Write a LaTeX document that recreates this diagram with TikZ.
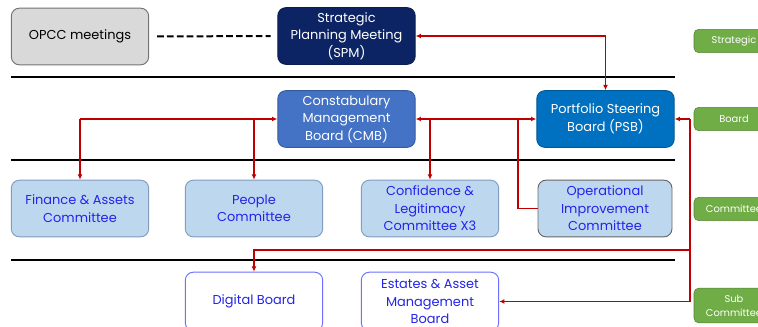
\documentclass[tikz,border=0pt]{standalone}
\usepackage{fontspec}
\setmainfont{Poppins}
\usepackage{xcolor}
\usetikzlibrary{arrows.meta}

\definecolor{spmnavy}{RGB}{12,36,100}
\definecolor{cmbblue}{RGB}{68,114,196}
\definecolor{psbblue}{RGB}{0,112,192}
\definecolor{comfill}{RGB}{189,215,238}
\definecolor{comline}{RGB}{130,155,190}
\definecolor{comtext}{RGB}{35,35,235}
\definecolor{subline}{RGB}{110,110,255}
\definecolor{tagfill}{RGB}{112,173,71}
\definecolor{tagline}{RGB}{84,130,53}
\definecolor{linkred}{RGB}{192,0,0}
\definecolor{opccfill}{RGB}{217,217,217}

\begin{document}
\begin{tikzpicture}[x=0.75pt, y=-0.75pt, font=\fontsize{9.7}{13.1}\selectfont,
  box/.style={rounded corners=6pt, minimum width=103pt, minimum height=42.5pt,
    align=center, inner sep=2pt, line width=0.7pt},
  topbox/.style={box, text=white, draw=#1!80!black, fill=#1},
  combox/.style={box, fill=comfill, draw=comline, text=comtext},
  subbox/.style={box, fill=white, draw=subline, text=comtext, minimum height=44pt},
  tag/.style={rounded corners=3.5pt, fill=tagfill, draw=tagline, text=white,
    minimum width=60pt, minimum height=17.5pt, align=center, inner sep=1pt,
    font=\fontsize{7.4}{10.5}\selectfont},
  link/.style={linkred, line width=1.2pt},
  tip/.style={-{Latex[length=4pt,width=3.6pt]}},
  rule/.style={line width=2.2pt}]
\useasboundingbox (0,0) rectangle (758,327);
\clip (0,0) rectangle (758,327);

% level separators
\foreach \y in {77,160,260} \draw[rule] (11,\y) -- (675,\y);

% strategic level
\node[box, fill=opccfill, draw=black!55] (opcc) at (80,36.5) {OPCC meetings};
\node[topbox=spmnavy] (spm) at (346.5,36) {Strategic\\Planning Meeting\\(SPM)};

% boards
\node[topbox=cmbblue] (cmb) at (346.5,119) {Constabulary\\Management\\Board (CMB)};
\node[topbox=psbblue] (psb) at (605.5,119) {Portfolio Steering\\Board (PSB)};

% committees
\node[combox] (fac) at (80,208.5) {Finance \& Assets\\Committee};
\node[combox] (ppl) at (254,208.5) {People\\Committee};
\node[combox] (clc) at (430,208.5) {Confidence \&\\Legitimacy\\Committee X3};
\node[combox, draw=black!60, minimum width=100.5pt] (oic) at (605,208.5) {Operational\\Improvement\\Committee};

% sub committees
\node[subbox] (dig) at (254,301.5) {Digital Board};
\node[subbox] (eam) at (430,301.5) {Estates \& Asset\\Management\\Board};

% level tags
\node[tag] (tstr) at (734,41) {Strategic};
\node[tag] (tbrd) at (734,119) {Board};
\node[tag] (tcom) at (734,209) {Committee};
\node[tag, minimum height=26pt] (tsub) at (734,305.5) {Sub\\Committee};

% connectors
\draw[dashed, line width=1.5pt, dash pattern=on 5pt off 2.4pt, shorten <=6pt, shorten >=5pt]
  (opcc.east) -- (spm.west);
\draw[link, {Latex[length=4pt,width=3.6pt]}-{Latex[length=4pt,width=3.6pt]}] (spm.east) -| (psb.north);
\draw[link, {Latex[length=4pt,width=3.6pt]}-{Latex[length=4pt,width=3.6pt]}] (cmb.east) -- (psb.west);
\draw[link, tip] (fac.north |- cmb.west) -- (cmb.west);
\draw[link, tip] (fac.north |- cmb.west) -- (fac.north);
\draw[link, tip] (ppl.north |- cmb.west) -- (ppl.north);
\draw[link, tip] (clc.north |- cmb.east) -- (clc.north);
\coordinate (oicjoin) at (518,119);
\draw[link] (oicjoin) |- (oic.west);

% right hand spine
\coordinate (spine) at (690,119);
\coordinate (spinemid) at (690,250);
\draw[link, tip] (spine) -- (psb.east);
\draw[link, tip] (spine) |- (eam.east);
\draw[link, tip] (spinemid) -| (dig.north);
\end{tikzpicture}
\end{document}
